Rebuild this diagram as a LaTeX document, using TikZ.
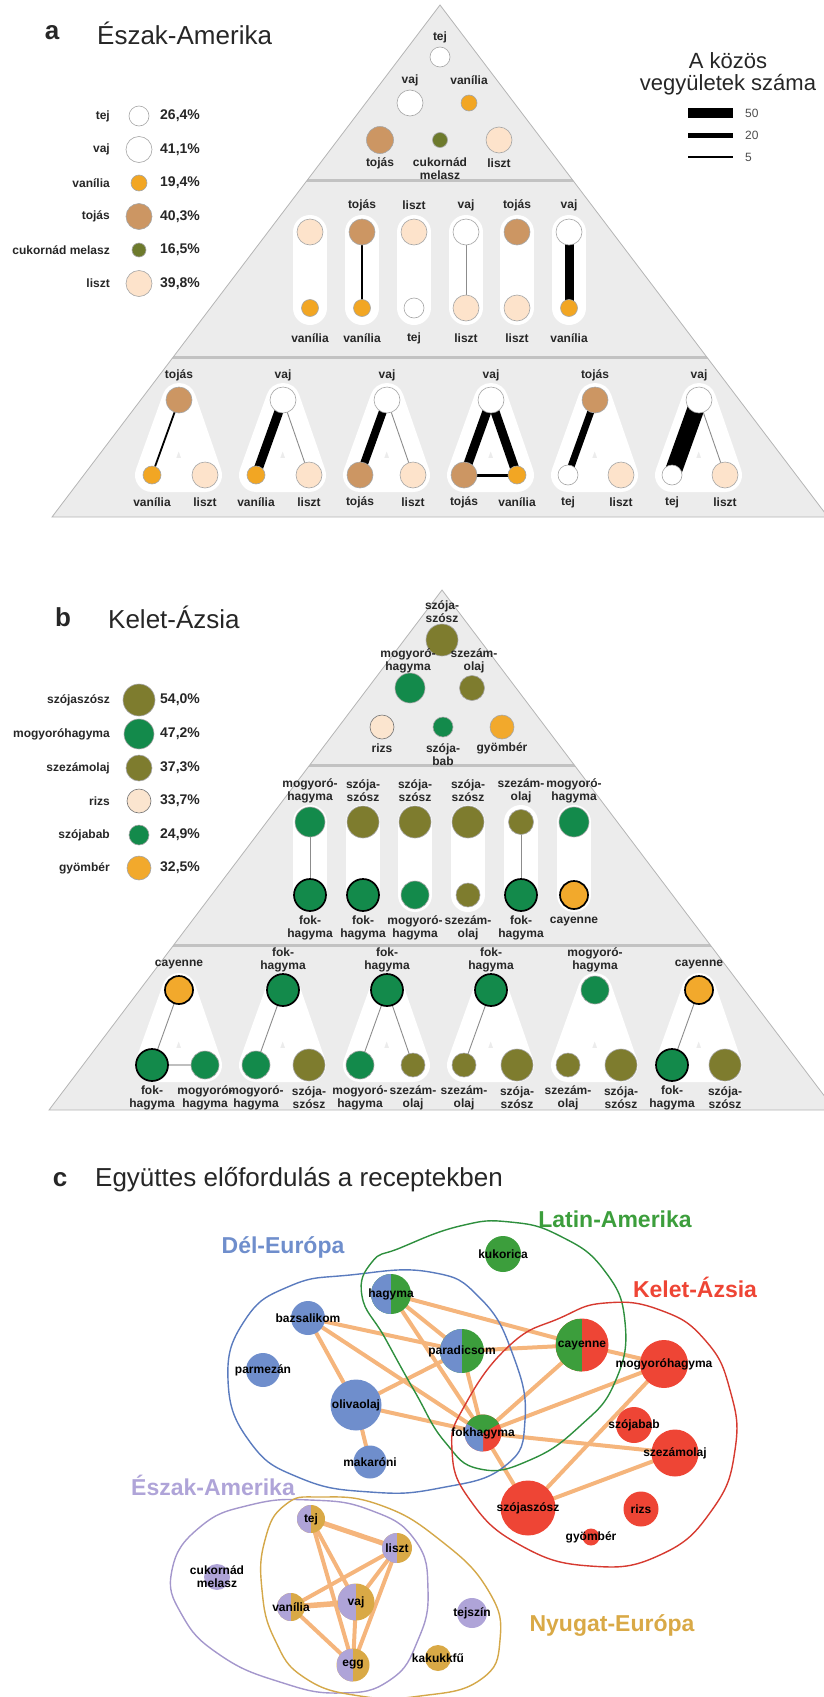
\documentclass[tikz,border=0pt]{standalone}
\usepackage{fontspec}
\setmainfont{Liberation Sans}
\usetikzlibrary{positioning}

\pgfdeclarelayer{bg}
\pgfdeclarelayer{hullayer}
\pgfdeclarelayer{edgelayer}
\pgfsetlayers{bg,hullayer,edgelayer,main}

\definecolor{pyrFill}{HTML}{ECECEC}
\definecolor{pyrLine}{HTML}{B5B5B5}
\definecolor{sepLine}{HTML}{C2C2C2}
\definecolor{txt}{HTML}{262626}
\definecolor{vanC}{HTML}{F2A623}
\definecolor{tojasC}{HTML}{CC9663}
\definecolor{melaszC}{HTML}{6D7A2C}
\definecolor{lisztC}{HTML}{FDE3CB}
\definecolor{oliveC}{HTML}{7E7C2E}
\definecolor{dgreenC}{HTML}{138A4B}
\definecolor{cayC}{HTML}{F2A92C}
\definecolor{rizsC}{HTML}{FBE5CF}
\definecolor{reBlue}{HTML}{6F8ECC}
\definecolor{reGreen}{HTML}{3C9E3C}
\definecolor{reRed}{HTML}{EE4535}
\definecolor{reLav}{HTML}{AFA4D8}
\definecolor{reGold}{HTML}{D9A946}
\definecolor{lnBlue}{HTML}{5A7BBE}
\definecolor{lnGreen}{HTML}{2E8F3E}
\definecolor{lnRed}{HTML}{D63A30}
\definecolor{lnLav}{HTML}{A497CC}
\definecolor{lnGold}{HTML}{D4A849}
\definecolor{edgeC}{HTML}{F5B57C}

\tikzset{
  ing/.style={circle, inner sep=0pt, minimum size=#1, draw=black!35, line width=0.6pt},
  strong/.style={draw=black, line width=1.7pt},
  lbl/.style={font=\fontsize{12}{13}\selectfont\bfseries, text=txt, align=center, inner sep=0pt},
  lname/.style={lbl, anchor=east},
  pcent/.style={font=\fontsize{14}{15}\selectfont\bfseries, text=txt, anchor=west, inner sep=0pt},
  paneltag/.style={font=\fontsize{26}{30}\selectfont\bfseries, text=txt, inner sep=0pt},
  paneltitle/.style={font=\fontsize{26}{30}\selectfont, text=txt, anchor=west, inner sep=0pt},
  regionlbl/.style={font=\fontsize{23}{26}\selectfont\bfseries, inner sep=0pt},
  pill/.style={white, line width=34pt, line cap=round},
  hull/.style={white, line width=34pt, line join=round},
  link/.style={draw=black, line width=#1},
  thinlink/.style={draw=black!45, line width=0.9pt},
  flow/.style={draw=edgeC, line width=#1},
  flow/.default=4pt,
  cnode/.style={circle, inner sep=0pt, minimum size=#1, draw=none},
  cname/.style={font=\fontsize{12}{13}\selectfont\bfseries, text=black, align=center, inner sep=0pt},
  half/.style 2 args={fill=#2, path picture={\fill[#1] (path picture bounding box.south west) rectangle (path picture bounding box.north);}},
  region/.style={line width=1.4pt, draw=#1}
}

\begin{document}
\begin{tikzpicture}[x=1pt,y=-1pt]
\useasboundingbox (0,0) rectangle (824,1697);

% ================= a =================
\node[paneltag] (tagA) at (52,33) {a};
\node[paneltitle] (titleA) at (97,33) {Észak-Amerika};

\begin{pgfonlayer}{bg}
  \fill[pyrFill] (440,5) -- (52,517) -- (828,517) -- cycle;
  \begin{scope}
    \clip (440,5) -- (52,517) -- (828,517) -- cycle;
    \draw[sepLine, line width=3pt] (0,180) -- (824,180) (0,357) -- (824,357);
  \end{scope}
  \draw[pyrLine, line width=0.8pt] (440,5) -- (52,517) -- (828,517) -- cycle;
\end{pgfonlayer}

% legend
\node[ing=20pt, fill=white] (laTej) at (139,116) {};
\node[ing=26pt, fill=white] (laVaj) at (139,149.5) {};
\node[ing=16pt, fill=vanC] (laVan) at (139,183) {};
\node[ing=26pt, fill=tojasC] (laToj) at (139,216.5) {};
\node[ing=14pt, fill=melaszC] (laMel) at (139,250) {};
\node[ing=26pt, fill=lisztC] (laLis) at (139,283.5) {};
\node[lname] (laTejN) at (110,116) {tej};
\node[lname] (laVajN) at (110,149.5) {vaj};
\node[lname] (laVanN) at (110,183) {vanília};
\node[lname] (laTojN) at (110,216.5) {tojás};
\node[lname] (laMelN) at (110,250) {cukornád melasz};
\node[lname] (laLisN) at (110,283.5) {liszt};
\node[pcent] (laTejP) at (160,116) {26,4\%};
\node[pcent] (laVajP) at (160,149.5) {41,1\%};
\node[pcent] (laVanP) at (160,183) {19,4\%};
\node[pcent] (laTojP) at (160,216.5) {40,3\%};
\node[pcent] (laMelP) at (160,250) {16,5\%};
\node[pcent] (laLisP) at (160,283.5) {39,8\%};

% shared compounds key
\node[font=\fontsize{22}{22}\selectfont, text=txt, align=center, inner sep=0pt] (keyTitle) at (728,74) {A közös\\vegyületek száma};
\draw[black, line width=10pt] (688,113) -- (733,113);
\draw[black, line width=5pt] (688,135) -- (733,135);
\draw[black, line width=1.5pt] (688,157) -- (733,157);
\node[font=\fontsize{12}{13}\selectfont, text=black!70, anchor=west, inner sep=0pt] (key50) at (745,113) {50};
\node[font=\fontsize{12}{13}\selectfont, text=black!70, anchor=west, inner sep=0pt] (key20) at (745,135) {20};
\node[font=\fontsize{12}{13}\selectfont, text=black!70, anchor=west, inner sep=0pt] (key5) at (745,157) {5};

% top
\node[ing=20pt, fill=white] (aTej) at (440,57) {};
\node[ing=26pt, fill=white] (aVaj) at (410,103) {};
\node[ing=16pt, fill=vanC] (aVan) at (469,103) {};
\node[ing=27pt, fill=tojasC] (aToj) at (380,140) {};
\node[ing=15pt, fill=melaszC] (aMel) at (440,140) {};
\node[ing=26pt, fill=lisztC] (aLis) at (499,140) {};
\node[lbl] (aTejN) at (440,37) {tej};
\node[lbl] (aVajN) at (410,80) {vaj};
\node[lbl] (aVanN) at (469,80) {vanília};
\node[lbl] (aTojN) at (380,163) {tojás};
\node[lbl] (aMelN) at (440,169) {cukornád\\melasz};
\node[lbl] (aLisN) at (499,163) {liszt};

% pairs
\node[ing=26pt, fill=lisztC] (a2u1) at (310,232) {};
\node[ing=26pt, fill=tojasC] (a2u2) at (362,232) {};
\node[ing=26pt, fill=lisztC] (a2u3) at (414,232) {};
\node[ing=26pt, fill=white] (a2u4) at (466,232) {};
\node[ing=26pt, fill=tojasC] (a2u5) at (517,232) {};
\node[ing=26pt, fill=white] (a2u6) at (569,232) {};
\node[ing=17pt, fill=vanC] (a2d1) at (310,308) {};
\node[ing=17pt, fill=vanC] (a2d2) at (362,308) {};
\node[ing=20pt, fill=white] (a2d3) at (414,308) {};
\node[ing=26pt, fill=lisztC] (a2d4) at (466,308) {};
\node[ing=26pt, fill=lisztC] (a2d5) at (517,308) {};
\node[ing=17pt, fill=vanC] (a2d6) at (569,308) {};
\node[lbl] (a2u2N) at (362,205) {tojás};
\node[lbl] (a2u3N) at (414,205) {liszt};
\node[lbl] (a2u4N) at (466,205) {vaj};
\node[lbl] (a2u5N) at (517,205) {tojás};
\node[lbl] (a2u6N) at (569,205) {vaj};
\node[lbl] (a2d1N) at (310,338) {vanília};
\node[lbl] (a2d2N) at (362,338) {vanília};
\node[lbl] (a2d3N) at (414,338) {tej};
\node[lbl] (a2d4N) at (466,338) {liszt};
\node[lbl] (a2d5N) at (517,338) {liszt};
\node[lbl] (a2d6N) at (569,338) {vanília};
\begin{pgfonlayer}{hullayer}
  \draw[pill] (a2u1.center) -- (a2d1.center);
  \draw[pill] (a2u2.center) -- (a2d2.center);
  \draw[pill] (a2u3.center) -- (a2d3.center);
  \draw[pill] (a2u4.center) -- (a2d4.center);
  \draw[pill] (a2u5.center) -- (a2d5.center);
  \draw[pill] (a2u6.center) -- (a2d6.center);
\end{pgfonlayer}
\begin{pgfonlayer}{edgelayer}
  \draw[link=2pt] (a2u2.center) -- (a2d2.center);
  \draw[thinlink] (a2u4.center) -- (a2d4.center);
  \draw[link=9pt] (a2u6.center) -- (a2d6.center);
\end{pgfonlayer}

% triples
\node[ing=26pt, fill=tojasC] (a3t1) at (179,400) {};
\node[ing=26pt, fill=white] (a3t2) at (283,400) {};
\node[ing=26pt, fill=white] (a3t3) at (387,400) {};
\node[ing=26pt, fill=white] (a3t4) at (491,400) {};
\node[ing=26pt, fill=tojasC] (a3t5) at (595,400) {};
\node[ing=26pt, fill=white] (a3t6) at (699,400) {};
\node[ing=18pt, fill=vanC] (a3l1) at (152,475) {};
\node[ing=18pt, fill=vanC] (a3l2) at (256,475) {};
\node[ing=26pt, fill=tojasC] (a3l3) at (360,475) {};
\node[ing=26pt, fill=tojasC] (a3l4) at (464,475) {};
\node[ing=20pt, fill=white] (a3l5) at (568,475) {};
\node[ing=20pt, fill=white] (a3l6) at (672,475) {};
\node[ing=26pt, fill=lisztC] (a3r1) at (205,475) {};
\node[ing=26pt, fill=lisztC] (a3r2) at (309,475) {};
\node[ing=26pt, fill=lisztC] (a3r3) at (413,475) {};
\node[ing=18pt, fill=vanC] (a3r4) at (517,475) {};
\node[ing=26pt, fill=lisztC] (a3r5) at (621,475) {};
\node[ing=26pt, fill=lisztC] (a3r6) at (725,475) {};
\node[lbl] (a3t1N) at (179,375) {tojás};
\node[lbl] (a3t2N) at (283,375) {vaj};
\node[lbl] (a3t3N) at (387,375) {vaj};
\node[lbl] (a3t4N) at (491,375) {vaj};
\node[lbl] (a3t5N) at (595,375) {tojás};
\node[lbl] (a3t6N) at (699,375) {vaj};
\node[lbl] (a3l1N) at (152,502) {vanília};
\node[lbl] (a3l2N) at (256,502) {vanília};
\node[lbl] (a3l3N) at (360,502) {tojás};
\node[lbl] (a3l4N) at (464,502) {tojás};
\node[lbl] (a3l5N) at (568,502) {tej};
\node[lbl] (a3l6N) at (672,502) {tej};
\node[lbl] (a3r1N) at (205,502) {liszt};
\node[lbl] (a3r2N) at (309,502) {liszt};
\node[lbl] (a3r3N) at (413,502) {liszt};
\node[lbl] (a3r4N) at (517,502) {vanília};
\node[lbl] (a3r5N) at (621,502) {liszt};
\node[lbl] (a3r6N) at (725,502) {liszt};
\begin{pgfonlayer}{hullayer}
  \draw[hull] (a3t1.center) -- (a3l1.center) -- (a3r1.center) -- cycle;
  \draw[hull] (a3t2.center) -- (a3l2.center) -- (a3r2.center) -- cycle;
  \draw[hull] (a3t3.center) -- (a3l3.center) -- (a3r3.center) -- cycle;
  \draw[hull] (a3t4.center) -- (a3l4.center) -- (a3r4.center) -- cycle;
  \draw[hull] (a3t5.center) -- (a3l5.center) -- (a3r5.center) -- cycle;
  \draw[hull] (a3t6.center) -- (a3l6.center) -- (a3r6.center) -- cycle;
\end{pgfonlayer}
\begin{pgfonlayer}{edgelayer}
  \draw[link=1.8pt] (a3t1.center) -- (a3l1.center);
  \draw[link=9pt] (a3t2.center) -- (a3l2.center);
  \draw[thinlink] (a3t2.center) -- (a3r2.center);
  \draw[link=8pt] (a3t3.center) -- (a3l3.center);
  \draw[thinlink] (a3t3.center) -- (a3r3.center);
  \draw[link=9pt] (a3t4.center) -- (a3l4.center);
  \draw[link=9pt] (a3t4.center) -- (a3r4.center);
  \draw[link=3pt] (a3l4.center) -- (a3r4.center);
  \draw[link=7pt] (a3t5.center) -- (a3l5.center);
  \draw[link=17pt] (a3t6.center) -- (a3l6.center);
  \draw[thinlink] (a3t6.center) -- (a3r6.center);
\end{pgfonlayer}

% ================= b =================
\node[paneltag] (tagB) at (63,617) {b};
\node[paneltitle] (titleB) at (108,617) {Kelet-Ázsia};

\begin{pgfonlayer}{bg}
  \fill[pyrFill] (442,590) -- (49,1110) -- (835,1110) -- cycle;
  \begin{scope}
    \clip (442,590) -- (49,1110) -- (835,1110) -- cycle;
    \draw[sepLine, line width=3pt] (0,765) -- (824,765) (0,945) -- (824,945);
  \end{scope}
  \draw[pyrLine, line width=0.8pt] (442,590) -- (49,1110) -- (835,1110) -- cycle;
\end{pgfonlayer}

% legend
\node[ing=32pt, fill=oliveC] (lbSoy) at (139,700) {};
\node[ing=30pt, fill=dgreenC] (lbMog) at (139,734) {};
\node[ing=26pt, fill=oliveC] (lbSes) at (139,768) {};
\node[ing=24pt, fill=rizsC, draw=black!55] (lbRiz) at (139,801) {};
\node[ing=20pt, fill=dgreenC] (lbBab) at (139,835) {};
\node[ing=24pt, fill=cayC] (lbGin) at (139,868) {};
\node[lname] (lbSoyN) at (110,700) {szójaszósz};
\node[lname] (lbMogN) at (110,734) {mogyoróhagyma};
\node[lname] (lbSesN) at (110,768) {szezámolaj};
\node[lname] (lbRizN) at (110,801) {rizs};
\node[lname] (lbBabN) at (110,835) {szójabab};
\node[lname] (lbGinN) at (110,868) {gyömbér};
\node[pcent] (lbSoyP) at (160,700) {54,0\%};
\node[pcent] (lbMogP) at (160,734) {47,2\%};
\node[pcent] (lbSesP) at (160,768) {37,3\%};
\node[pcent] (lbRizP) at (160,801) {33,7\%};
\node[pcent] (lbBabP) at (160,835) {24,9\%};
\node[pcent] (lbGinP) at (160,868) {32,5\%};

% top
\node[ing=32pt, fill=oliveC] (bSoy) at (442,640) {};
\node[ing=30pt, fill=dgreenC] (bMog) at (410,688) {};
\node[ing=25pt, fill=oliveC] (bSes) at (472,688) {};
\node[ing=24pt, fill=rizsC, draw=black!55] (bRiz) at (382,727) {};
\node[ing=20pt, fill=dgreenC] (bBab) at (443,727) {};
\node[ing=24pt, fill=cayC] (bGin) at (502,727) {};
\node[lbl] (bSoyN) at (442,612) {szója-\\szósz};
\node[lbl] (bMogN) at (408,661) {mogyoró-\\hagyma};
\node[lbl] (bSesN) at (474,661) {szezám-\\olaj};
\node[lbl] (bRizN) at (382,748) {rizs};
\node[lbl] (bBabN) at (443,755) {szója-\\bab};
\node[lbl] (bGinN) at (502,748) {gyömbér};

% pairs
\node[ing=30pt, fill=dgreenC] (b2u1) at (310,822) {};
\node[ing=32pt, fill=oliveC] (b2u2) at (363,822) {};
\node[ing=32pt, fill=oliveC] (b2u3) at (415,822) {};
\node[ing=32pt, fill=oliveC] (b2u4) at (468,822) {};
\node[ing=25pt, fill=oliveC] (b2u5) at (521,822) {};
\node[ing=30pt, fill=dgreenC] (b2u6) at (574,822) {};
\node[ing=32pt, fill=dgreenC, strong] (b2d1) at (310,895) {};
\node[ing=32pt, fill=dgreenC, strong] (b2d2) at (363,895) {};
\node[ing=28pt, fill=dgreenC] (b2d3) at (415,895) {};
\node[ing=24pt, fill=oliveC] (b2d4) at (468,895) {};
\node[ing=32pt, fill=dgreenC, strong] (b2d5) at (521,895) {};
\node[ing=28pt, fill=cayC, strong] (b2d6) at (574,895) {};
\node[lbl] (b2u1N) at (310,791) {mogyoró-\\hagyma};
\node[lbl] (b2u2N) at (363,791) {szója-\\szósz};
\node[lbl] (b2u3N) at (415,791) {szója-\\szósz};
\node[lbl] (b2u4N) at (468,791) {szója-\\szósz};
\node[lbl] (b2u5N) at (521,791) {szezám-\\olaj};
\node[lbl] (b2u6N) at (574,791) {mogyoró-\\hagyma};
\node[lbl] (b2d1N) at (310,928) {fok-\\hagyma};
\node[lbl] (b2d2N) at (363,928) {fok-\\hagyma};
\node[lbl] (b2d3N) at (415,928) {mogyoró-\\hagyma};
\node[lbl] (b2d4N) at (468,928) {szezám-\\olaj};
\node[lbl] (b2d5N) at (521,928) {fok-\\hagyma};
\node[lbl] (b2d6N) at (574,922) {cayenne};
\begin{pgfonlayer}{hullayer}
  \draw[pill] (b2u1.center) -- (b2d1.center);
  \draw[pill] (b2u2.center) -- (b2d2.center);
  \draw[pill] (b2u3.center) -- (b2d3.center);
  \draw[pill] (b2u4.center) -- (b2d4.center);
  \draw[pill] (b2u5.center) -- (b2d5.center);
  \draw[pill] (b2u6.center) -- (b2d6.center);
\end{pgfonlayer}
\begin{pgfonlayer}{edgelayer}
  \draw[thinlink] (b2u1.center) -- (b2d1.center);
  \draw[thinlink] (b2u5.center) -- (b2d5.center);
\end{pgfonlayer}

% triples
\node[ing=28pt, fill=cayC, strong] (b3t1) at (179,990) {};
\node[ing=32pt, fill=dgreenC, strong] (b3t2) at (283,990) {};
\node[ing=32pt, fill=dgreenC, strong] (b3t3) at (387,990) {};
\node[ing=32pt, fill=dgreenC, strong] (b3t4) at (491,990) {};
\node[ing=28pt, fill=dgreenC] (b3t5) at (595,990) {};
\node[ing=28pt, fill=cayC, strong] (b3t6) at (699,990) {};
\node[ing=32pt, fill=dgreenC, strong] (b3l1) at (152,1065) {};
\node[ing=28pt, fill=dgreenC] (b3l2) at (256,1065) {};
\node[ing=28pt, fill=dgreenC] (b3l3) at (360,1065) {};
\node[ing=24pt, fill=oliveC] (b3l4) at (464,1065) {};
\node[ing=24pt, fill=oliveC] (b3l5) at (568,1065) {};
\node[ing=32pt, fill=dgreenC, strong] (b3l6) at (672,1065) {};
\node[ing=28pt, fill=dgreenC] (b3r1) at (205,1065) {};
\node[ing=32pt, fill=oliveC] (b3r2) at (309,1065) {};
\node[ing=24pt, fill=oliveC] (b3r3) at (413,1065) {};
\node[ing=32pt, fill=oliveC] (b3r4) at (517,1065) {};
\node[ing=32pt, fill=oliveC] (b3r5) at (621,1065) {};
\node[ing=32pt, fill=oliveC] (b3r6) at (725,1065) {};
\node[lbl] (b3t1N) at (179,965) {cayenne};
\node[lbl] (b3t2N) at (283,960) {fok-\\hagyma};
\node[lbl] (b3t3N) at (387,960) {fok-\\hagyma};
\node[lbl] (b3t4N) at (491,960) {fok-\\hagyma};
\node[lbl] (b3t5N) at (595,960) {mogyoró-\\hagyma};
\node[lbl] (b3t6N) at (699,965) {cayenne};
\node[lbl] (b3l1N) at (152,1098) {fok-\\hagyma};
\node[lbl] (b3l2N) at (256,1098) {mogyoró-\\hagyma};
\node[lbl] (b3l3N) at (360,1098) {mogyoró-\\hagyma};
\node[lbl] (b3l4N) at (464,1098) {szezám-\\olaj};
\node[lbl] (b3l5N) at (568,1098) {szezám-\\olaj};
\node[lbl] (b3l6N) at (672,1098) {fok-\\hagyma};
\node[lbl] (b3r1N) at (205,1098) {mogyoró-\\hagyma};
\node[lbl] (b3r2N) at (309,1098) {szója-\\szósz};
\node[lbl] (b3r3N) at (413,1098) {szezám-\\olaj};
\node[lbl] (b3r4N) at (517,1098) {szója-\\szósz};
\node[lbl] (b3r5N) at (621,1098) {szója-\\szósz};
\node[lbl] (b3r6N) at (725,1098) {szója-\\szósz};
\begin{pgfonlayer}{hullayer}
  \draw[hull] (b3t1.center) -- (b3l1.center) -- (b3r1.center) -- cycle;
  \draw[hull] (b3t2.center) -- (b3l2.center) -- (b3r2.center) -- cycle;
  \draw[hull] (b3t3.center) -- (b3l3.center) -- (b3r3.center) -- cycle;
  \draw[hull] (b3t4.center) -- (b3l4.center) -- (b3r4.center) -- cycle;
  \draw[hull] (b3t5.center) -- (b3l5.center) -- (b3r5.center) -- cycle;
  \draw[hull] (b3t6.center) -- (b3l6.center) -- (b3r6.center) -- cycle;
\end{pgfonlayer}
\begin{pgfonlayer}{edgelayer}
  \draw[thinlink] (b3t1.center) -- (b3l1.center);
  \draw[draw=black!25, line width=2.5pt] (b3l1.center) -- (b3r1.center);
  \draw[thinlink] (b3t2.center) -- (b3l2.center);
  \draw[thinlink] (b3t3.center) -- (b3l3.center);
  \draw[thinlink] (b3t3.center) -- (b3r3.center);
  \draw[thinlink] (b3t4.center) -- (b3l4.center);
  \draw[thinlink] (b3t6.center) -- (b3l6.center);
\end{pgfonlayer}

% ================= c =================
\node[paneltag] (tagC) at (60,1180) {c};
\node[paneltitle] (titleC) at (95,1180) {Együttes előfordulás a receptekben};

% regions
\draw[region=lnBlue] plot[smooth cycle, tension=0.8] coordinates {(350,1275) (430,1272) (480,1298) (513,1355) (525,1420) (505,1466) (440,1488) (370,1492) (300,1478) (250,1442) (228,1380) (245,1320) (290,1286)};
\draw[region=lnGreen] plot[smooth cycle, tension=0.8] coordinates {(400,1248) (460,1226) (510,1222) (560,1236) (604,1270) (625,1322) (615,1382) (580,1426) (530,1460) (480,1469) (445,1442) (415,1392) (385,1338) (362,1296) (372,1262)};
\draw[region=lnRed] plot[smooth cycle, tension=0.8] coordinates {(560,1318) (605,1303) (660,1310) (705,1340) (730,1390) (735,1450) (712,1510) (660,1555) (590,1566) (520,1545) (470,1500) (452,1450) (465,1405) (510,1345)};
\draw[region=lnLav] plot[smooth cycle, tension=0.8] coordinates {(172,1570) (200,1527) (250,1505) (310,1500) (370,1510) (415,1540) (428,1590) (418,1640) (390,1680) (340,1693) (280,1682) (220,1655) (182,1615)};
\draw[region=lnGold] plot[smooth cycle, tension=0.8] coordinates {(265,1540) (285,1505) (320,1497) (380,1505) (440,1540) (488,1590) (500,1640) (480,1680) (420,1696) (360,1696) (305,1678) (275,1640) (262,1590)};

\node[regionlbl, text=reBlue] (rgSouth) at (283,1247) {Dél-Európa};
\node[regionlbl, text=reGreen] (rgLatin) at (615,1219) {Latin-Amerika};
\node[regionlbl, text=reRed] (rgEast) at (695,1287) {Kelet-Ázsia};
\node[regionlbl, text=reLav] (rgNorth) at (213,1485) {Észak-Amerika};
\node[regionlbl, text=reGold] (rgWest) at (612,1625) {Nyugat-Európa};

% ingredients
\node[cnode=36pt, fill=reGreen, label={[cname]center:kukorica}] (cKuk) at (503,1254) {};
\node[cnode=40pt, half={reBlue}{reGreen}, label={[cname]center:hagyma}] (cHag) at (391,1294) {};
\node[cnode=34pt, fill=reBlue, label={[cname]center:bazsalikom}] (cBaz) at (308,1318) {};
\node[cnode=44pt, half={reBlue}{reGreen}, label={[cname]center:paradicsom}] (cPar) at (462,1351) {};
\node[cnode=53pt, half={reGreen}{reRed}, label={[cname]center:cayenne}] (cCay) at (582,1345) {};
\node[cnode=48pt, fill=reRed, label={[cname]center:mogyoróhagyma}] (cMog) at (664,1364) {};
\node[cnode=34pt, fill=reBlue, label={[cname]center:parmezán}] (cPrm) at (263,1370) {};
\node[cnode=51pt, fill=reBlue, label={[cname]center:olivaolaj}] (cOli) at (356,1405) {};
\node[cnode=37pt, fill=reRed, path picture={
    \fill[reBlue] (path picture bounding box.center) -- ++(150:30pt) arc[start angle=150, end angle=270, radius=30pt] -- cycle;
    \fill[reGreen] (path picture bounding box.center) -- ++(30:30pt) arc[start angle=30, end angle=150, radius=30pt] -- cycle;},
  label={[cname]center:fokhagyma}] (cFok) at (483,1433) {};
\node[cnode=36pt, fill=reRed, label={[cname]center:szójabab}] (cBab) at (634,1425) {};
\node[cnode=47pt, fill=reRed, label={[cname]center:szezámolaj}] (cSes) at (675,1453) {};
\node[cnode=33pt, fill=reBlue, label={[cname]center:makaróni}] (cMak) at (370,1462) {};
\node[cnode=55pt, fill=reRed, label={[cname]center:szójaszósz}] (cSoy) at (528,1508) {};
\node[cnode=35pt, fill=reRed, label={[cname]center:rizs}] (cRiz) at (641,1509) {};
\node[cnode=17pt, fill=reRed, label={[cname]center:gyömbér}] (cGin) at (591,1537) {};
\node[cnode=28pt, half={reLav}{reGold}, label={[cname]center:tej}] (cTej) at (311,1519) {};
\node[cnode=30pt, half={reLav}{reGold}, label={[cname]center:liszt}] (cLis) at (397,1548) {};
\node[cnode=26pt, fill=reLav, label={[cname]center:cukornád\\melasz}] (cMel) at (217,1577) {};
\node[cnode=28pt, half={reLav}{reGold}, label={[cname]center:vanília}] (cVan) at (291,1607) {};
\node[cnode=37pt, half={reLav}{reGold}, label={[cname]center:vaj}] (cVaj) at (356,1602) {};
\node[cnode=30pt, fill=reLav, label={[cname]center:tejszín}] (cTsz) at (472,1613) {};
\node[cnode=33pt, half={reLav}{reGold}, label={[cname]center:egg}] (cEgg) at (353,1665) {};
\node[cnode=26pt, fill=reGold, label={[cname]center:kakukkfű}] (cKak) at (438,1658) {};

\begin{pgfonlayer}{edgelayer}
  \draw[flow] (cHag.center) -- (cPar.center);
  \draw[flow] (cHag.center) -- (cFok.center);
  \draw[flow] (cHag.center) -- (cCay.center);
  \draw[flow] (cBaz.center) -- (cPar.center);
  \draw[flow] (cBaz.center) -- (cFok.center);
  \draw[flow] (cBaz.center) -- (cOli.center);
  \draw[flow] (cPar.center) -- (cCay.center);
  \draw[flow] (cPar.center) -- (cOli.center);
  \draw[flow] (cPar.center) -- (cFok.center);
  \draw[flow] (cOli.center) -- (cFok.center);
  \draw[flow] (cOli.center) -- (cMak.center);
  \draw[flow] (cCay.center) -- (cFok.center);
  \draw[flow] (cCay.center) -- (cMog.center);
  \draw[flow] (cMog.center) -- (cFok.center);
  \draw[flow] (cMog.center) -- (cSoy.center);
  \draw[flow] (cFok.center) -- (cSes.center);
  \draw[flow] (cFok.center) -- (cSoy.center);
  \draw[flow] (cSes.center) -- (cSoy.center);
  \draw[flow=5pt] (cTej.center) -- (cLis.center);
  \draw[flow] (cTej.center) -- (cVaj.center);
  \draw[flow] (cTej.center) -- (cEgg.center);
  \draw[flow] (cLis.center) -- (cVan.center);
  \draw[flow] (cLis.center) -- (cVaj.center);
  \draw[flow] (cLis.center) -- (cEgg.center);
  \draw[flow=5.5pt] (cVan.center) -- (cVaj.center);
  \draw[flow] (cVan.center) -- (cEgg.center);
  \draw[flow] (cVaj.center) -- (cEgg.center);
\end{pgfonlayer}
\end{tikzpicture}
\end{document}
